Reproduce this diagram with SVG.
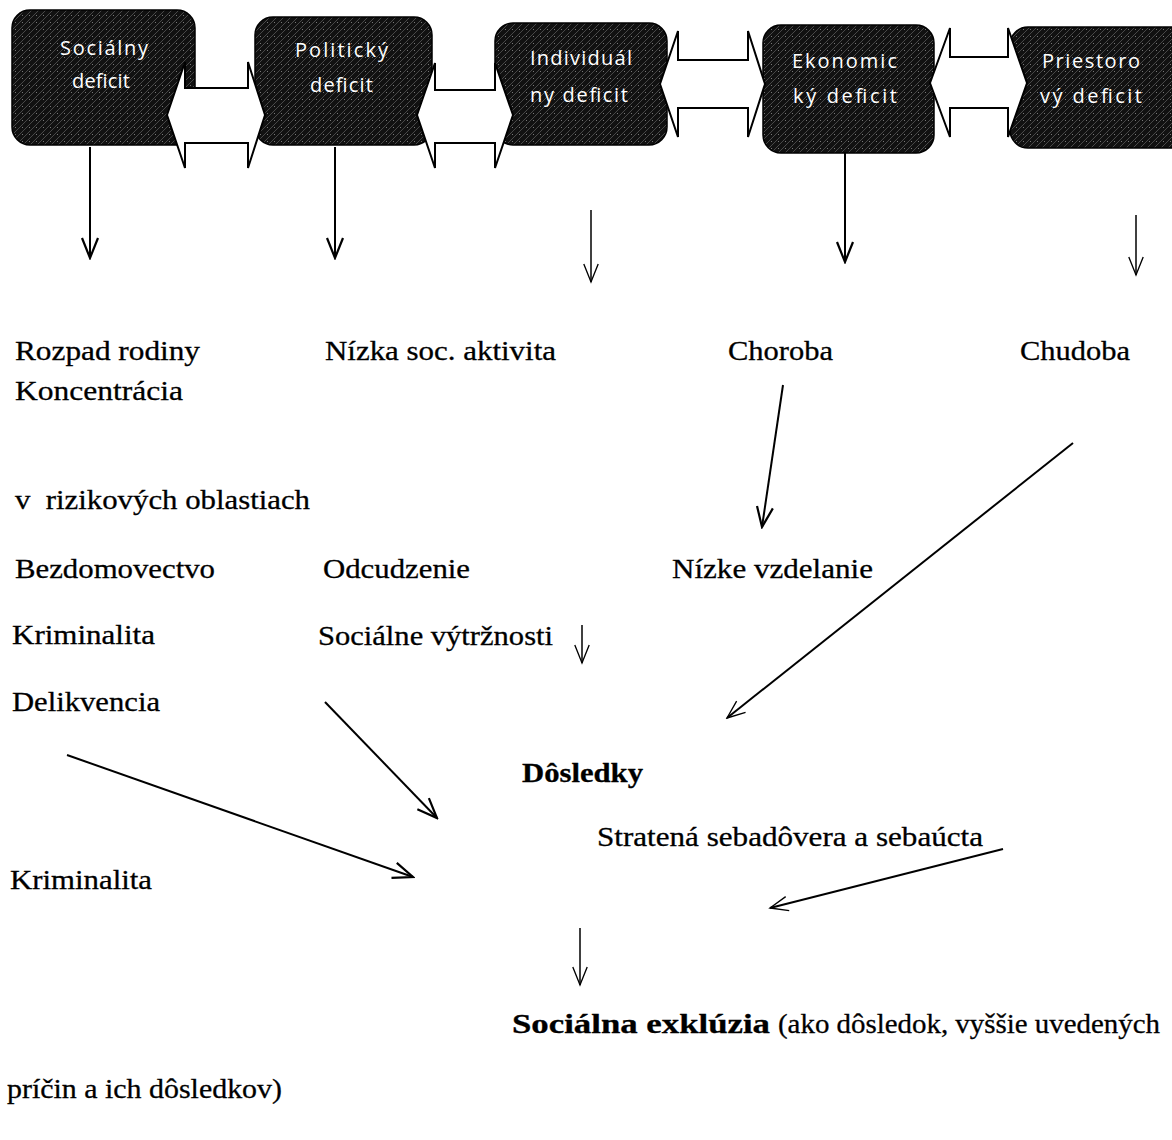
<svg xmlns="http://www.w3.org/2000/svg" width="1172" height="1140" viewBox="0 0 1172 1140">
<style>
.box{fill:url(#tex);stroke:#000;stroke-width:1.5}
.bt{font-family:"Open Sans","Noto Sans",sans-serif;font-size:20px;fill:#fff}
.t{font-family:"Liberation Serif","Times New Roman",serif;font-size:28px;fill:#000;stroke:#000;stroke-width:0.3}
.b{font-weight:bold}
.dbl{fill:#fff;stroke:#000;stroke-width:2;stroke-linejoin:miter}
.ln{fill:none;stroke:#000;stroke-width:2}
.lt{fill:none;stroke:#000;stroke-width:1.5}
</style>
<defs>
<pattern id="tex" width="7" height="7" patternUnits="userSpaceOnUse">
<rect width="7" height="7" fill="#111"/>
<path d="M0,7 L7,0" stroke="#484848" stroke-width="1"/>
<rect x="1" y="1" width="1" height="1" fill="#777"/>
</pattern>
<marker id="v" viewBox="0 0 24 20" refX="22" refY="10" markerWidth="24" markerHeight="20" markerUnits="userSpaceOnUse" orient="auto">
<path d="M2,2 L22,10 L2,18" fill="none" stroke="#000" stroke-width="2.2"/>
</marker>
<marker id="vs" viewBox="0 0 24 20" refX="22" refY="10" markerWidth="22" markerHeight="18" markerUnits="userSpaceOnUse" orient="auto">
<path d="M2,2 L22,10 L2,18" fill="none" stroke="#000" stroke-width="1.5"/>
</marker>
</defs>
<rect width="1172" height="1140" fill="#fff"/>

<g id="node-socialny">
<rect class="box" x="12" y="10" width="183" height="135" rx="18"/>
<text class="bt" x="60" y="55" textLength="88" lengthAdjust="spacing">Sociálny</text>
<text class="bt" x="72" y="88" textLength="58" lengthAdjust="spacing">deficit</text>
</g>
<g id="node-politicky">
<rect class="box" x="255" y="17" width="177" height="128" rx="18"/>
<text class="bt" x="295" y="57" textLength="93" lengthAdjust="spacing">Politický</text>
<text class="bt" x="310" y="92" textLength="63" lengthAdjust="spacing">deficit</text>
</g>
<g id="node-individualny">
<rect class="box" x="495" y="23" width="172" height="122" rx="18"/>
<text class="bt" x="530" y="65" textLength="102" lengthAdjust="spacing">Individuál</text>
<text class="bt" x="530" y="102" textLength="98" lengthAdjust="spacing">ny deficit</text>
</g>
<g id="node-ekonomicky">
<rect class="box" x="763" y="25" width="171" height="128" rx="18"/>
<text class="bt" x="792" y="68" textLength="105" lengthAdjust="spacing">Ekonomic</text>
<text class="bt" x="793" y="103" textLength="104" lengthAdjust="spacing">ký deficit</text>
</g>
<g id="node-priestorovy">
<rect class="box" x="1010" y="27" width="180" height="121" rx="18"/>
<text class="bt" x="1042" y="68" textLength="98" lengthAdjust="spacing">Priestoro</text>
<text class="bt" x="1040" y="103" textLength="102" lengthAdjust="spacing">vý deficit</text>
</g>

<g id="connectors">
<polygon class="dbl" points="167,115 185,62 185,88 248,88 248,62 265,115 248,168 248,143 185,143 185,168"/>
<polygon class="dbl" points="417,115 435,63 435,90 495,90 495,63 513,115 495,168 495,143 435,143 435,168"/>
<polygon class="dbl" points="660,84 678,31 678,60 748,60 748,31 765,84 748,137 748,108 678,108 678,137"/>
<polygon class="dbl" points="930,83 950,28 950,57 1008,57 1008,28 1027,83 1008,137 1008,108 950,108 950,137"/>

<line class="ln" x1="90" y1="147" x2="90" y2="258" marker-end="url(#v)"/>
<line class="ln" x1="335" y1="147" x2="335" y2="258" marker-end="url(#v)"/>
<line class="lt" x1="591" y1="210" x2="591" y2="282" marker-end="url(#vs)"/>
<line class="ln" x1="845" y1="153" x2="845" y2="262" marker-end="url(#v)"/>
<line class="lt" x1="1136" y1="215" x2="1136" y2="275" marker-end="url(#vs)"/>

<line class="ln" x1="783" y1="385" x2="762" y2="527" marker-end="url(#v)"/>
<line class="ln" x1="1073" y1="443" x2="727" y2="718" marker-end="url(#vs)"/>
<line class="lt" x1="582" y1="625" x2="582" y2="663" marker-end="url(#vs)"/>
<line class="ln" x1="325" y1="702" x2="437" y2="818" marker-end="url(#v)"/>
<line class="ln" x1="67" y1="755" x2="413" y2="877" marker-end="url(#v)"/>
<line class="ln" x1="1003" y1="849" x2="770" y2="908" marker-end="url(#vs)"/>
<line class="lt" x1="580" y1="928" x2="580" y2="985" marker-end="url(#vs)"/>
</g>

<g id="labels">
<text class="t" x="15" y="360" textLength="185" lengthAdjust="spacingAndGlyphs">Rozpad rodiny</text>
<text class="t" x="15" y="400" textLength="168" lengthAdjust="spacingAndGlyphs">Koncentrácia</text>
<text class="t" x="325" y="360" textLength="231" lengthAdjust="spacingAndGlyphs">Nízka soc. aktivita</text>
<text class="t" x="728" y="360" textLength="105" lengthAdjust="spacingAndGlyphs">Choroba</text>
<text class="t" x="1020" y="360" textLength="110" lengthAdjust="spacingAndGlyphs">Chudoba</text>
<text class="t" x="15" y="509" textLength="295" lengthAdjust="spacingAndGlyphs" xml:space="preserve">v  rizikových oblastiach</text>
<text class="t" x="15" y="578" textLength="200" lengthAdjust="spacingAndGlyphs">Bezdomovectvo</text>
<text class="t" x="323" y="578" textLength="147" lengthAdjust="spacingAndGlyphs">Odcudzenie</text>
<text class="t" x="672" y="578" textLength="201" lengthAdjust="spacingAndGlyphs">Nízke vzdelanie</text>
<text class="t" x="12" y="644" textLength="143" lengthAdjust="spacingAndGlyphs">Kriminalita</text>
<text class="t" x="318" y="645" textLength="235" lengthAdjust="spacingAndGlyphs">Sociálne výtržnosti</text>
<text class="t" x="12" y="711" textLength="148" lengthAdjust="spacingAndGlyphs">Delikvencia</text>
<text class="t b" x="522" y="782" textLength="121" lengthAdjust="spacingAndGlyphs">Dôsledky</text>
<text class="t" x="597" y="846" textLength="386" lengthAdjust="spacingAndGlyphs">Stratená sebadôvera a sebaúcta</text>
<text class="t" x="10" y="889" textLength="142" lengthAdjust="spacingAndGlyphs">Kriminalita</text>
<text class="t b" x="512" y="1033" textLength="258" lengthAdjust="spacingAndGlyphs">Sociálna exklúzia</text>
<text class="t" x="778" y="1033" textLength="382" lengthAdjust="spacingAndGlyphs">(ako dôsledok, vyššie uvedených</text>
<text class="t" x="7" y="1098" textLength="275" lengthAdjust="spacingAndGlyphs">príčin a ich dôsledkov)</text>
</g>
</svg>
